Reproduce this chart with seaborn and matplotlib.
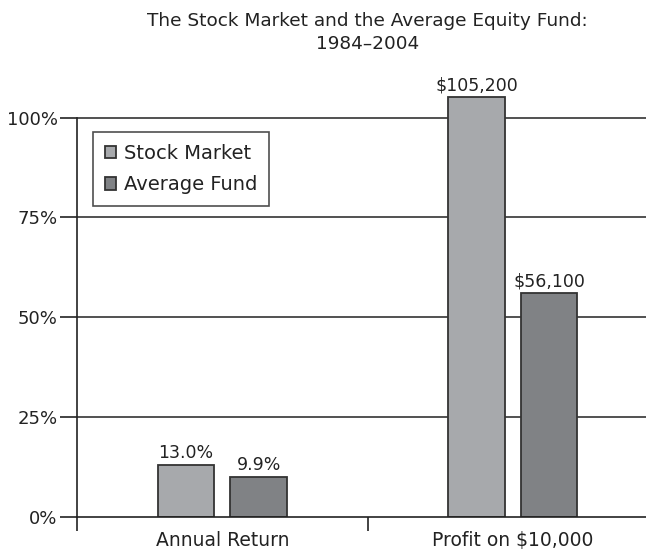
import numpy as np
import pandas as pd
import matplotlib
matplotlib.use("Agg")
import matplotlib.pyplot as plt
import seaborn as sns

# data
categories = ["Annual Return", "Profit on $10,000"]
series = ["Stock Market", "Average Fund"]
stock_vals = [13.0, 105.2]
fund_vals = [9.9, 56.1]
stock_labels = ["13.0%", "$105,200"]
fund_labels = ["9.9%", "$56,100"]
y_ticks = [0, 25, 50, 75, 100]
y_ticklabels = ["0%", "25%", "50%", "75%", "100%"]

df = pd.DataFrame({
    "category": categories * 2,
    "series": [series[0]] * 2 + [series[1]] * 2,
    "value": stock_vals + fund_vals,
})

sns.set_theme(style="white")
plt.rcParams["font.family"] = ["DejaVu Sans"]

fig = plt.figure(figsize=(6.46, 5.53), dpi=100)
ax = fig.add_axes([77 / 646, 36.3 / 553, 581 / 646, 439 / 553])

palette = {"Stock Market": "#A7A9AC", "Average Fund": "#808285"}
sns.barplot(data=df, x="category", y="value", hue="series", order=categories,
            hue_order=series, palette=palette, width=0.5, gap=0.22,
            edgecolor="#333333", linewidth=1.3, saturation=1, ax=ax)

# value labels
for cont, labs in zip(ax.containers, [stock_labels, fund_labels]):
    ax.bar_label(cont, labels=labs, padding=2, fontsize=12.5, color="#222222")

ax.set_xlim(-0.5, 1.5)
ax.set_ylim(0, 110)
ax.set_yticks(y_ticks)
ax.set_yticklabels(y_ticklabels, fontsize=13, color="#222222")
ax.tick_params(axis="y", direction="out", length=12, width=1.2, color="#222222", left=True, pad=2)

# category labels centered, ticks at the category boundaries
ax.set_xticks([0, 1])
ax.set_xticklabels(categories, fontsize=13.5, color="#222222")
ax.tick_params(axis="x", which="major", length=0, pad=10)
ax.set_xticks([-0.5, 0.5], minor=True)
ax.tick_params(axis="x", which="minor", direction="out", length=10, width=1.2,
               color="#222222", bottom=True)
ax.set_xlabel("")
ax.set_ylabel("")

# gridlines
for yv in y_ticks[1:]:
    ax.axhline(yv, color="#333333", lw=1.2, zorder=0)

for s in ["top", "right"]:
    ax.spines[s].set_visible(False)
ax.spines["left"].set_color("#222222")
ax.spines["left"].set_linewidth(1.2)
ax.spines["left"].set_bounds(0, 100)
ax.spines["bottom"].set_color("#222222")
ax.spines["bottom"].set_linewidth(1.2)

ax.set_title("The Stock Market and the Average Equity Fund:\n1984\u20132004",
             fontsize=13.3, color="#222222", pad=21, linespacing=1.35)

leg = ax.legend(loc="upper left", bbox_to_anchor=(0.0275, 0.876), fontsize=14,
                frameon=True, fancybox=False, edgecolor="#222222",
                handlelength=0.6, handleheight=0.6, handletextpad=0.4,
                borderpad=0.6, labelspacing=0.65, borderaxespad=0)
leg.get_frame().set_linewidth(1.2)
for t in leg.get_texts():
    t.set_color("#222222")

fig.savefig("out.png", dpi=100)
